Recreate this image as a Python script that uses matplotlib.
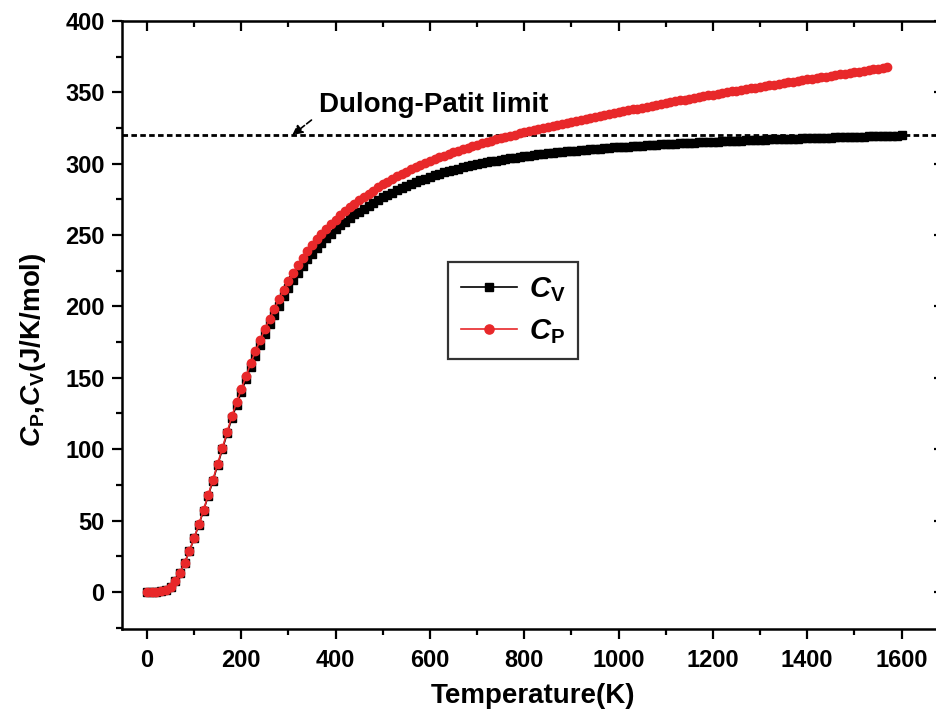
import matplotlib
matplotlib.use('Agg')
import matplotlib.pyplot as plt
from matplotlib.ticker import MultipleLocator
import numpy as np

plt.rcParams['font.family'] = ['Liberation Sans', 'DejaVu Sans']
plt.rcParams['font.weight'] = 'bold'
plt.rcParams['mathtext.fontset'] = 'custom'
plt.rcParams['mathtext.rm'] = 'Liberation Sans:bold'
plt.rcParams['mathtext.it'] = 'Liberation Sans:bold:italic'
plt.rcParams['mathtext.bf'] = 'Liberation Sans:bold'

# temperature grid, 10 K step
temps = np.arange(0, 1601, 10)

# Cv (J/K/mol)
cv = [0.0, 0.0, 0.1, 0.4, 1.5, 3.6, 7.5, 13.5, 20.5, 28.5,
      37.5, 47.0, 57.0, 67.5, 78.0, 89.0, 100.0, 111.0, 121.5, 131.0,
      140.0, 149.0, 157.5, 165.5, 173.0, 180.5, 187.5, 194.0, 200.5, 207.0,
      213.0, 218.5, 223.5, 228.5, 233.0, 237.0, 241.0, 244.5, 248.0, 251.0,
      254.0, 257.0, 259.5, 262.0, 264.5, 266.5, 268.5, 270.5, 272.5, 274.5,
      276.5, 278.2, 279.8, 281.4, 282.9, 284.3, 285.7, 287.0, 288.3, 289.6,
      290.8, 291.9, 293.0, 294.0, 294.9, 295.8, 296.6, 297.4, 298.2, 298.9,
      299.6, 300.3, 301.0, 301.6, 302.2, 302.8, 303.3, 303.8, 304.3, 304.8,
      305.3, 305.7, 306.1, 306.5, 306.9, 307.3, 307.7, 308.0, 308.3, 308.6,
      308.9, 309.2, 309.5, 309.8, 310.1, 310.4, 310.6, 310.9, 311.1, 311.4,
      311.6, 311.8, 312.0, 312.3, 312.5, 312.7, 312.9, 313.1, 313.3, 313.5,
      313.7, 313.9, 314.1, 314.3, 314.4, 314.6, 314.8, 314.9, 315.1, 315.2,
      315.4, 315.5, 315.7, 315.8, 316.0, 316.1, 316.2, 316.4, 316.5, 316.6,
      316.7, 316.9, 317.0, 317.1, 317.2, 317.3, 317.4, 317.5, 317.6, 317.7,
      317.8, 317.9, 318.0, 318.1, 318.2, 318.3, 318.4, 318.5, 318.6, 318.7,
      318.8, 318.9, 319.0, 319.1, 319.2, 319.3, 319.4, 319.5, 319.6, 319.7,
      319.8]

# Cp (J/K/mol), ends at 1570 K
cp = [0.0, 0.0, 0.1, 0.4, 1.5, 3.6, 7.5, 13.5, 20.5, 28.6,
      37.7, 47.3, 57.4, 68.0, 78.7, 89.8, 101.0, 112.2, 123.0, 132.8,
      142.0, 151.3, 160.2, 168.5, 176.3, 184.0, 191.3, 198.1, 204.9, 211.6,
      217.8, 223.5, 228.7, 233.9, 238.6, 242.8, 247.0, 250.7, 254.4, 257.6,
      260.8, 264.0, 266.7, 269.4, 272.1, 274.4, 276.6, 278.9, 281.2, 283.4,
      285.6, 287.5, 289.3, 291.1, 292.8, 294.4, 296.0, 297.5, 299.0, 300.5,
      301.8, 303.1, 304.5, 305.7, 306.8, 308.0, 309.1, 310.2, 311.3, 312.3,
      313.3, 314.3, 315.3, 316.2, 317.1, 318.0, 318.8, 319.6, 320.4, 321.2,
      322.0, 322.8, 323.5, 324.2, 324.9, 325.6, 326.3, 327.0, 327.7, 328.4,
      329.1, 329.8, 330.5, 331.2, 331.9, 332.6, 333.3, 334.0, 334.6, 335.3,
      336.0, 336.7, 337.3, 338.0, 338.6, 339.3, 339.9, 340.6, 341.2, 341.8,
      342.5, 343.1, 343.7, 344.3, 344.9, 345.5, 346.1, 346.7, 347.3, 347.8,
      348.4, 349.0, 349.5, 350.1, 350.6, 351.2, 351.7, 352.3, 352.8, 353.3,
      353.9, 354.4, 354.9, 355.4, 355.9, 356.5, 357.0, 357.5, 358.0, 358.5,
      359.0, 359.5, 360.0, 360.5, 361.0, 361.5, 362.0, 362.5, 363.0, 363.5,
      364.0, 364.5, 365.0, 365.5, 366.0, 366.5, 367.0, 367.5]

dulong_petit = 320

fig = plt.figure(figsize=(9.36, 7.23), dpi=100)
# right spine sits just outside the picture, like the cropped original
ax = fig.add_axes([0.1303, 0.130, 0.8782, 0.841])

ax.axhline(dulong_petit, color='black', lw=2, linestyle=(0, (2.0, 1.2)), zorder=1)
ax.plot(temps, cv, color='black', lw=1.2, marker='s', markersize=5.6,
        label=r'$C_{\mathrm{V}}$', zorder=2)
ax.plot(temps[:len(cp)], cp, color='#e8282a', lw=1.2, marker='o', markersize=6,
        markeredgecolor='#e8282a', label=r'$C_{\mathrm{P}}$', zorder=3)

ax.annotate('Dulong-Patit limit', xy=(308, dulong_petit), xytext=(364, 336),
            fontsize=20, fontweight='bold', va='baseline',
            arrowprops=dict(arrowstyle='-|>', linestyle='--', color='black', lw=1.2,
                            relpos=(0, 0.15), shrinkA=4, shrinkB=0,
                            mutation_scale=15))

ax.set_xlim(-53, 1690)
ax.set_ylim(-26, 400)
ax.xaxis.set_major_locator(MultipleLocator(200))
ax.xaxis.set_minor_locator(MultipleLocator(100))
ax.yaxis.set_major_locator(MultipleLocator(50))
ax.yaxis.set_minor_locator(MultipleLocator(25))

for s in ax.spines.values():
    s.set_linewidth(1.8)
ax.tick_params(which='both', width=1.6, labelsize=17)
ax.tick_params(which='major', length=7.5)
ax.tick_params(which='minor', length=4)
ax.tick_params(axis='x', which='both', direction='out', top=False, pad=7)
ax.tick_params(axis='y', which='both', direction='out', right=False, pad=5)

# top and right ticks point inward
sec_x = ax.secondary_xaxis('top')
sec_x.xaxis.set_major_locator(MultipleLocator(200))
sec_x.xaxis.set_minor_locator(MultipleLocator(100))
sec_x.tick_params(which='both', direction='in', width=1.6, labeltop=False)
sec_x.tick_params(which='major', length=7.5)
sec_x.tick_params(which='minor', length=4)
sec_y = ax.secondary_yaxis('right')
sec_y.yaxis.set_major_locator(MultipleLocator(50))
sec_y.yaxis.set_minor_locator(MultipleLocator(25))
sec_y.tick_params(which='both', direction='in', width=1.6, labelright=False)
sec_y.tick_params(which='major', length=7.5)
sec_y.tick_params(which='minor', length=4)

ax.set_xlabel('Temperature(K)', fontsize=20, fontweight='bold', labelpad=8)
ax.set_ylabel(r'$C_{\mathrm{P}}$,$C_{\mathrm{V}}$(J/K/mol)', fontsize=20, fontweight='bold')
ax.yaxis.set_label_coords(-0.09, 0.46)

leg = ax.legend(loc='upper left', bbox_to_anchor=(0.397, 0.604), borderaxespad=0,
                fontsize=21, frameon=True, fancybox=False, handlelength=1.9,
                handletextpad=0.4, borderpad=0.45, labelspacing=0.45,
                markerscale=1.1)
leg.get_frame().set_edgecolor('black')
leg.get_frame().set_linewidth(1.6)

fig.savefig('out.png', dpi=100)
